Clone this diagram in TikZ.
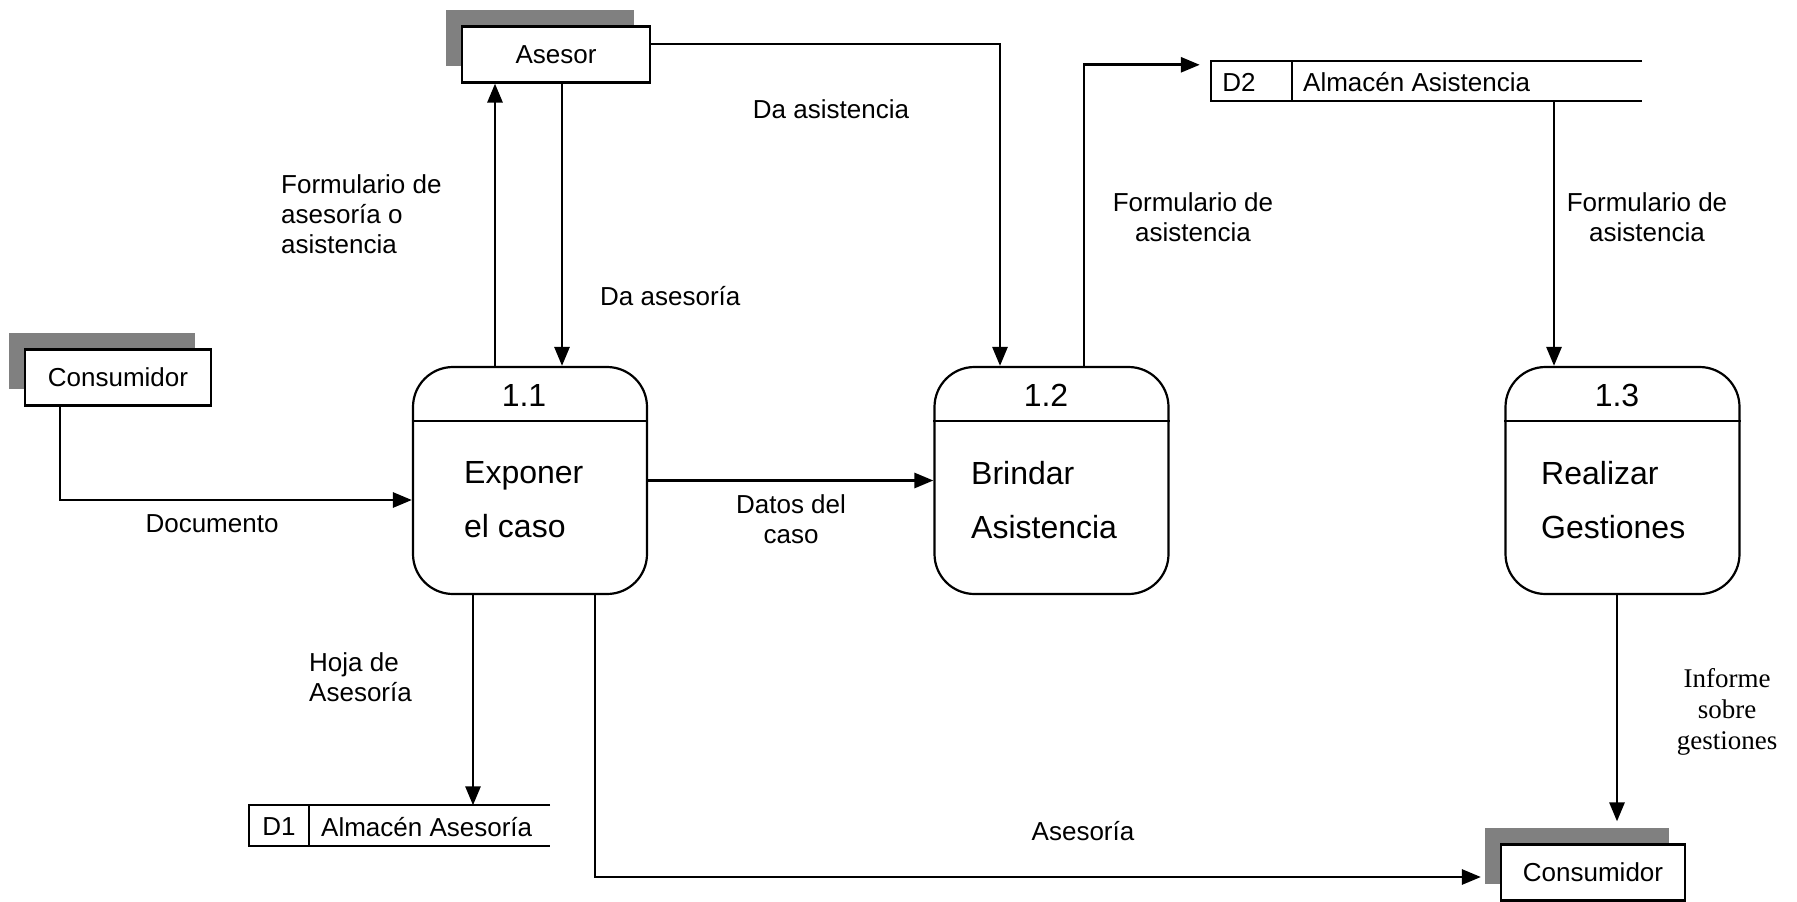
\documentclass[tikz,border=0pt]{standalone}
\usepackage{fontspec}
\setmainfont{Liberation Sans}
\newfontfamily\timesf{Liberation Serif}
\usetikzlibrary{arrows.meta,calc,shadows}
\definecolor{shgray}{HTML}{808080}
\begin{document}
\begin{tikzpicture}[x=1pt,y=-1pt,
  ent/.style={draw,line width=2.2pt,fill=white,inner sep=0pt,minimum height=56pt,
    font=\fontsize{26}{30}\selectfont,
    drop shadow={shadow xshift=-16pt,shadow yshift=17pt,fill=shgray,opacity=1}},
  proc/.style={draw,line width=2.2pt,rounded corners=40pt,minimum width=234pt,minimum height=227pt,inner sep=0pt},
  pnum/.style={inner sep=0pt,font=\fontsize{32}{38}\selectfont},
  ptext/.style={inner sep=0pt,anchor=west,align=left,font=\fontsize{32}{54}\selectfont},
  store/.style={inner sep=0pt,minimum height=40pt},
  stext/.style={inner sep=0pt,font=\fontsize{26}{30}\selectfont},
  flow/.style={line width=2.8pt,-{Triangle[length=19pt,width=15pt]}},
  lbl/.style={font=\fontsize{26}{30}\selectfont,align=center,inner sep=0pt},
  lbll/.style={font=\fontsize{26}{30}\selectfont,align=left,inner sep=0pt,anchor=west},
  tlbl/.style={font=\timesf\fontsize{27}{31}\selectfont,align=center,inner sep=0pt}
]
\useasboundingbox (0,0) rectangle (1797,902);

% external entities
\node[ent,minimum width=188pt] (as) at (556,54.5) {Asesor};
\node[ent,minimum width=186pt] (cl) at (118,377.5) {Consumidor};
\node[ent,minimum width=184pt] (cr) at (1593,872.5) {Consumidor};

% processes
\node[proc] (p1) at (530,480.5) {};
\node[proc] (p2) at (1051.5,480.5) {};
\node[proc] (p3) at (1622.5,480.5) {};
\foreach \p in {p1,p2,p3}{
  \draw[line width=2.2pt] ([yshift=-55pt]\p.north west) -- ([yshift=-55pt]\p.north east);
}
\node[pnum] (n1) at (524,395) {1.1};
\node[pnum] (n2) at (1046,395) {1.2};
\node[pnum] (n3) at (1617,395) {1.3};
\node[ptext] (t1) at (464,500) {Exponer\\el caso};
\node[ptext] (t2) at (971,500) {Brindar\\Asistencia};
\node[ptext] (t3) at (1541,500) {Realizar\\Gestiones};

% data stores
\node[store,minimum width=431pt] (d2) at (1426.5,81) {};
\draw[line width=2.2pt] (d2.north east) -- (d2.north west) -- (d2.south west) -- (d2.south east);
\draw[line width=2.2pt] ([xshift=81pt]d2.north west) -- ([xshift=81pt]d2.south west);
\node[stext] (d2id) at (1239,82) {D2};
\node[stext,anchor=west] (d2n) at (1303,82) {Almacén Asistencia};

\node[store,minimum width=301pt] (d1) at (399.5,825.5) {};
\draw[line width=2.2pt] (d1.north east) -- (d1.north west) -- (d1.south west) -- (d1.south east);
\draw[line width=2.2pt] ([xshift=60pt]d1.north west) -- ([xshift=60pt]d1.south west);
\node[stext] (d1id) at (279,827) {D1};
\node[stext,anchor=west] (d1n) at (321,827) {Almacén Asesoría};

% connector anchors
\coordinate (p1a) at ([xshift=-35pt]p1.north);
\coordinate (asb) at ([xshift=6pt]as.south);
\coordinate (p1c) at ([xshift=-57pt]p1.south);
\coordinate (p3a) at ([xshift=-68.5pt]p3.north);
\coordinate (p3b) at ([xshift=-5.5pt]p3.south);
\coordinate (crt) at ([xshift=24pt,yshift=22pt]cr.north);

% flows
\draw[flow] ([xshift=-58pt]cl.south) |- ([yshift=-19.5pt]p1.west);
\draw[flow] (p1a) -- (p1a |- as.south);
\draw[flow] (asb) -- (asb |- p1.north);
\draw[flow] ([yshift=10.5pt]as.east) -| ([xshift=-51.5pt]p2.north);
\draw[flow] ([xshift=32.5pt]p2.north) |- ([xshift=-11pt,yshift=-4pt]d2.north west);
\draw[flow] (p3a |- d2.south) -- (p3a);
\draw[flow] (p1.east) -- (p2.west);
\draw[flow] (p1c) -- (p1c |- d1.north);
\draw[flow] ([xshift=65pt]p1.south) |- ([xshift=-19pt,yshift=-4.5pt]cr.west);
\draw[flow] (p3b) -- (p3b |- crt);

% labels
\node[lbl] (l1) at (212,524) {Documento};
\node[lbll] (l2) at (281,214) {Formulario de\\asesoría o\\asistencia};
\node[lbll] (l3) at (600,296) {Da asesoría};
\node[lbl] (l4) at (831,109) {Da asistencia};
\node[lbl] (l5) at (1193,217) {Formulario de\\asistencia};
\node[lbl] (l6) at (1647,217) {Formulario de\\asistencia};
\node[lbl] (l7) at (791,519) {Datos del\\caso};
\node[lbll] (l8) at (309,677) {Hoja de\\Asesoría};
\node[lbl] (l9) at (1083,831) {Asesoría};
\node[tlbl] (l10) at (1727,712) {Informe\\sobre\\gestiones};
\end{tikzpicture}
\end{document}
